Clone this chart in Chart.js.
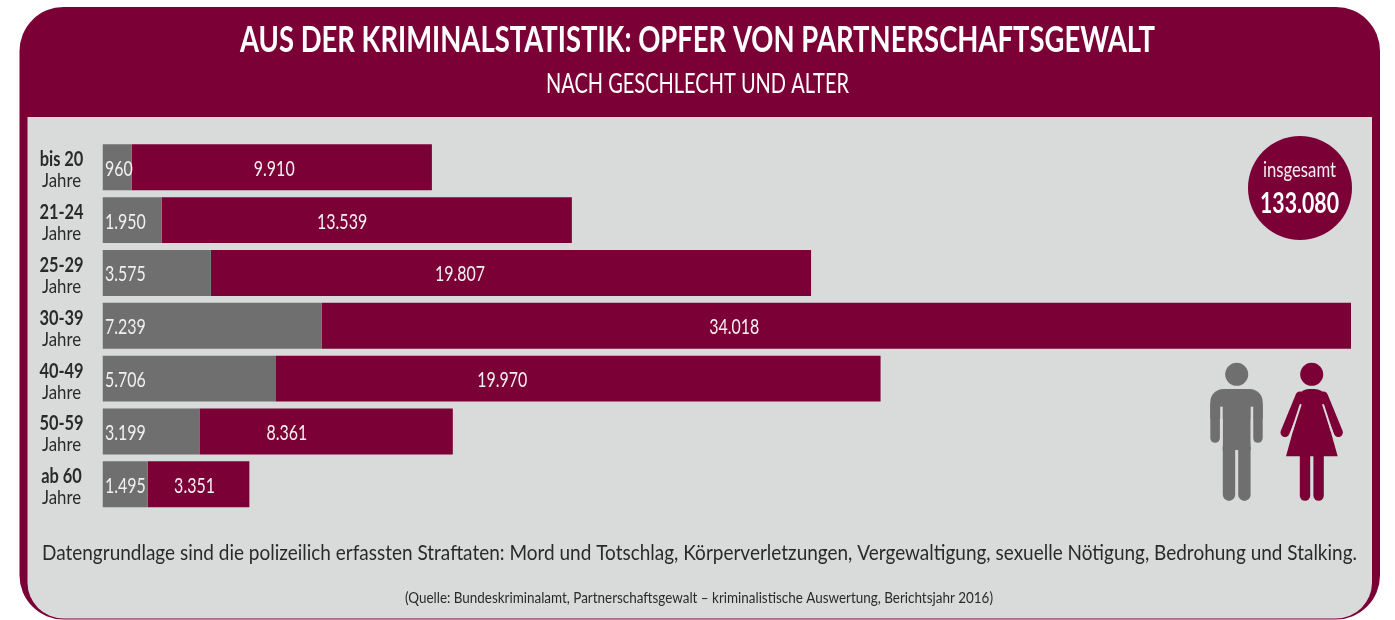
<!DOCTYPE html>
<html lang="de">
<head>
<meta charset="utf-8">
<title>Opfer von Partnerschaftsgewalt</title>
<script src="https://cdn.jsdelivr.net/npm/chart.js@4"></script>
<style>
    html, body { margin: 0; background: #fff; }
    canvas { display: block; }
</style>
</head>
<body>
<canvas id="grafik" width="1395" height="620"></canvas>
<script>
const ageGroups = ["bis 20", "21-24", "25-29", "30-39", "40-49", "50-59", "ab 60"];
const unitLabel = "Jahre";
const male = [960, 1950, 3575, 7239, 5706, 3199, 1495];
const female = [9910, 13539, 19807, 34018, 19970, 8361, 3351];
const maleLabels = ["960", "1.950", "3.575", "7.239", "5.706", "3.199", "1.495"];
const femaleLabels = ["9.910", "13.539", "19.807", "34.018", "19.970", "8.361", "3.351"];
const totalCaption = "insgesamt";
const totalLabel = "133.080";

const titleText = "AUS DER KRIMINALSTATISTIK: OPFER VON PARTNERSCHAFTSGEWALT";
const subtitleText = "NACH GESCHLECHT UND ALTER";
const noteText = "Datengrundlage sind die polizeilich erfassten Straftaten: Mord und Totschlag, Körperverletzungen, Vergewaltigung, sexuelle Nötigung, Bedrohung und Stalking.";
const sourceText = "(Quelle: Bundeskriminalamt, Partnerschaftsgewalt – kriminalistische Auswertung, Berichtsjahr 2016)";

// the red labels do not sit in the bar centre in the original
const femaleLabelShare = [0.475, 0.44, 0.415, 0.40, 0.375, 0.345, 0.46];

const MAROON = "#7b0036";
const GREY = "#6f6f6f";
const PANEL = "#d9dbda";
const DARK = "#2a2a2a";
const FONT = "Lato, 'Open Sans', sans-serif";

// text squeezed to a width (or by a factor), the source font is a condensed one
function drawText(ctx, text, x, y, font, color, align, fit) {
    ctx.save();
    ctx.font = font;
    ctx.fillStyle = color;
    ctx.textBaseline = "alphabetic";
    ctx.textAlign = "left";
    const natural = ctx.measureText(text).width;
    const sx = fit.width ? fit.width / natural : fit.stretch;
    const w = natural * sx;
    const left = align === "center" ? x - w / 2 : x;
    ctx.translate(left, y);
    ctx.scale(sx, 1);
    ctx.fillText(text, 0, 0);
    ctx.restore();
}

function limb(ctx, x1, y1, x2, y2, width) {
    ctx.lineWidth = width;
    ctx.lineCap = "round";
    ctx.beginPath();
    ctx.moveTo(x1, y1);
    ctx.lineTo(x2, y2);
    ctx.stroke();
}

function drawMan(ctx) {
    ctx.fillStyle = GREY;
    ctx.strokeStyle = GREY;
    ctx.beginPath();
    ctx.arc(1236.7, 374.3, 11.5, 0, Math.PI * 2);
    ctx.fill();
    ctx.beginPath();
    ctx.roundRect(1210.3, 389, 52.4, 30, [13, 13, 0, 0]);
    ctx.fill();
    ctx.fillRect(1222.7, 400, 28, 50);
    limb(ctx, 1215.1, 405, 1215.1, 438, 9.6);
    limb(ctx, 1257.9, 405, 1257.9, 438, 9.6);
    limb(ctx, 1229, 445, 1229, 494.7, 12.4);
    limb(ctx, 1244.4, 445, 1244.4, 494.7, 12.4);
    // gaps between arm and body
    ctx.fillStyle = PANEL;
    ctx.fillRect(1220.2, 406.7, 2.5, 40);
    ctx.fillRect(1250.7, 406.7, 2.5, 40);
}

function drawWoman(ctx) {
    ctx.fillStyle = MAROON;
    ctx.strokeStyle = MAROON;
    ctx.beginPath();
    ctx.arc(1311.7, 374.3, 11.5, 0, Math.PI * 2);
    ctx.fill();
    // dress
    ctx.beginPath();
    ctx.moveTo(1286, 456.3);
    ctx.lineTo(1300.5, 404);
    ctx.lineTo(1296, 404);
    ctx.lineTo(1298, 396);
    ctx.quadraticCurveTo(1302, 389, 1309, 389);
    ctx.lineTo(1314.5, 389);
    ctx.quadraticCurveTo(1322, 389, 1326, 396);
    ctx.lineTo(1327, 404);
    ctx.lineTo(1323, 404);
    ctx.lineTo(1337.7, 456.3);
    ctx.closePath();
    ctx.fill();
    limb(ctx, 1300, 396, 1285, 432.5, 9);
    limb(ctx, 1323.4, 396, 1338.4, 432.5, 9);
    limb(ctx, 1305, 450, 1305, 495.5, 10.4);
    limb(ctx, 1318.6, 450, 1318.6, 495.5, 10.4);
    ctx.strokeStyle = PANEL;
    limb(ctx, 1300.5, 405, 1292, 431, 2);
    limb(ctx, 1323.2, 405, 1331.7, 431, 2);
}

const framePlugin = {
    id: "frame",
    beforeDraw(chart) {
        const ctx = chart.ctx;
        ctx.save();
        ctx.fillStyle = MAROON;
        ctx.beginPath();
        ctx.roundRect(19.5, 7, 1360.5, 612.5, 44);
        ctx.fill();
        ctx.fillStyle = PANEL;
        ctx.beginPath();
        ctx.roundRect(27.5, 117, 1344.5, 501.5, [0, 0, 36, 36]);
        ctx.fill();
        ctx.restore();
    }
};

const labelPlugin = {
    id: "labels",
    afterDatasetsDraw(chart) {
        const ctx = chart.ctx;
        const yScale = chart.scales.y;
        const xScale = chart.scales.x;

        ageGroups.forEach((group, i) => {
            const mid = yScale.getPixelForValue(i);
            drawText(ctx, group, 61.5, mid - 1, "bold 20px " + FONT, DARK, "center", { stretch: 0.82 });
            drawText(ctx, unitLabel, 61.5, mid + 20, "20px " + FONT, DARK, "center", { stretch: 0.84 });

            const start = xScale.getPixelForValue(male[i]);
            const end = xScale.getPixelForValue(male[i] + female[i]);
            drawText(ctx, maleLabels[i], xScale.getPixelForValue(0) + 2.5, mid + 8.5, "21px " + FONT, "#f0f0f0", "left", { stretch: 0.76 });
            const labelX = start + (end - start) * femaleLabelShare[i];
            drawText(ctx, femaleLabels[i], labelX, mid + 8.5, "21px " + FONT, "#f4f0f2", "center", { stretch: 0.76 });
        });

        // header
        drawText(ctx, titleText, 697.5, 52, "bold 36px " + FONT, "#fff", "center", { width: 915 });
        drawText(ctx, subtitleText, 697.5, 93, "27px " + FONT, "#fff", "center", { width: 303 });

        // total badge
        ctx.save();
        ctx.fillStyle = MAROON;
        ctx.beginPath();
        ctx.arc(1300, 188, 52, 0, Math.PI * 2);
        ctx.fill();
        ctx.restore();
        drawText(ctx, totalCaption, 1299.5, 177, "21px " + FONT, "#f4eef1", "center", { width: 73 });
        drawText(ctx, totalLabel, 1299.5, 213, "bold 28px " + FONT, "#fff", "center", { width: 79 });

        ctx.save();
        drawMan(ctx);
        drawWoman(ctx);
        ctx.restore();

        // footer
        drawText(ctx, noteText, 42, 560, "21px " + FONT, DARK, "left", { width: 1315 });
        drawText(ctx, sourceText, 699, 603, "15px " + FONT, DARK, "center", { width: 588 });
    }
};

new Chart(document.getElementById("grafik").getContext("2d"), {
    type: "bar",
    data: {
        labels: ageGroups,
        datasets: [
            { label: "Männer", data: male, backgroundColor: GREY },
            { label: "Frauen", data: female, backgroundColor: MAROON }
        ]
    },
    options: {
        indexAxis: "y",
        responsive: false,
        animation: false,
        layout: { padding: { left: 102.5, right: 44, top: 140.9, bottom: 109.3 } },
        datasets: { bar: { barPercentage: 0.87, categoryPercentage: 1 } },
        plugins: { legend: { display: false }, title: { display: false }, tooltip: { enabled: false } },
        scales: {
            x: { stacked: true, display: false, min: 0, max: 41200 },
            y: { stacked: true, display: false }
        }
    },
    plugins: [framePlugin, labelPlugin]
});
</script>
</body>
</html>
